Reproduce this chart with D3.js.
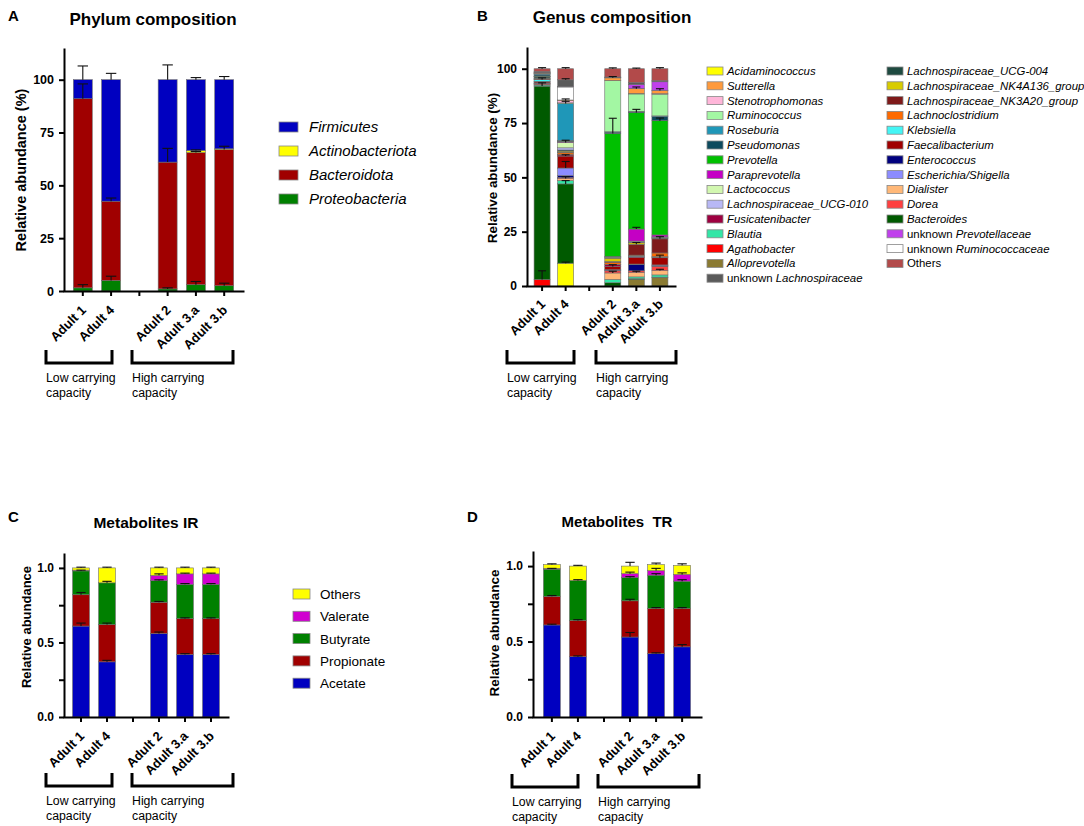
<!DOCTYPE html>
<html lang="en">
<head>
  <meta charset="UTF-8">
  <title>Composition and metabolites</title>
  <script src="https://cdn.jsdelivr.net/npm/d3@7/dist/d3.min.js"></script>
  <style>
    body { margin: 0; background: #fff; }
    svg { display: block; font-family: Arial, 'Liberation Sans', sans-serif; }
    .axis path, .axis line { stroke: #000; stroke-width: 2; }
    .axis text { font-weight: bold; fill: #000; font-family: Arial, 'Liberation Sans', sans-serif; }
    .seg { stroke: #6e6e6e; stroke-width: 0.6; }
    .err { stroke: #111; stroke-width: 1.1; fill: none; }
  </style>
</head>
<body>
<svg width="1084" height="826"></svg>
<script>
// x slots: the empty one is the gap between the two groups
const slots = ['Adult 1', 'Adult 4', '', 'Adult 2', 'Adult 3.a', 'Adult 3.b']
const samples = ['Adult 1', 'Adult 4', 'Adult 2', 'Adult 3.a', 'Adult 3.b']
const groups = ['Low carrying\ncapacity', 'High carrying\ncapacity']

// ---- A: phylum (%), stacked bottom -> top
const phyla = ['Proteobacteria', 'Bacteroidota', 'Actinobacteriota', 'Firmicutes']
const proteobacteria = [1.5, 5, 1, 3, 2.5]
const bacteroidota = [89.5, 37.5, 60, 62.5, 64.5]
const actinobacteriota = [0, 0, 0, 1, 0.3]
const firmicutes = [9, 57.5, 39, 33.5, 32.7]
const proteobacteriaErr = [1.5, 2, 0.5, 1.5, 1.2]
const bacteroidotaErr = [7, 1.5, 6.5, 0.5, 1.5]
const actinobacteriotaErr = [0, 0, 0, 0.3, 0]
const firmicutesErr = [6.5, 3, 7, 1, 1.5]
const phylumTicks = [0, 25, 50, 75, 100]

// ---- B: genus (%), legend order
const genera = ['Acidaminococcus', 'Sutterella', 'Stenotrophomonas', 'Ruminococcus', 'Roseburia',
  'Pseudomonas', 'Prevotella', 'Paraprevotella', 'Lactococcus', 'Lachnospiraceae_UCG-010',
  'Fusicatenibacter', 'Blautia', 'Agathobacter', 'Alloprevotella', 'unknown Lachnospiraceae',
  'Lachnospiraceae_UCG-004', 'Lachnospiraceae_NK4A136_group', 'Lachnospiraceae_NK3A20_group',
  'Lachnoclostridium', 'Klebsiella', 'Faecalibacterium', 'Enterococcus', 'Escherichia/Shigella',
  'Dialister', 'Dorea', 'Bacteroides', 'unknown Prevotellaceae', 'unknown Ruminococcaceae', 'Others']
const genusValues = [
  [0, 10.5, 0, 0, 0],
  [0.2, 0.3, 1.2, 2.2, 1.5],
  [0.1, 1, 0.1, 0.2, 0.2],
  [0.1, 0.3, 23.5, 8, 10],
  [0.4, 17, 0.2, 0.2, 0.3],
  [0.6, 0.3, 0.6, 0.4, 1.9],
  [0.2, 0.3, 56.6, 53.6, 52.6],
  [0.1, 0.3, 0.2, 5.5, 0.9],
  [0.1, 2.5, 0.1, 0.2, 0.1],
  [0.1, 1, 0.2, 0.3, 0.2],
  [0.3, 0.5, 0.8, 0.5, 0.3],
  [0.5, 1.5, 1.5, 0.8, 1],
  [3, 0, 0, 0, 0],
  [0, 0, 0, 3, 3.8],
  [0.5, 3, 0.2, 1, 0.5],
  [0.6, 0.5, 0.3, 0.3, 0.3],
  [0.1, 0.5, 1.5, 0.7, 0.3],
  [0.4, 0.3, 0.5, 5, 6.5],
  [0.1, 0.8, 0.8, 0.4, 1.7],
  [0.8, 0.2, 0.2, 0.2, 0.2],
  [0.5, 5.5, 1.5, 3, 3.3],
  [0.1, 0.8, 0.3, 2.8, 0.4],
  [0.1, 3.5, 0.2, 0.3, 0.2],
  [0.2, 1, 3, 2, 2],
  [0.5, 0.5, 1, 0.8, 2],
  [89, 36.5, 1.5, 0.4, 0.3],
  [0.1, 0.3, 0.1, 1.8, 3.9],
  [0.1, 6, 0.1, 0.1, 0.1],
  [1.2, 5.1, 3.8, 6.3, 5.5]
]
// stacking order, bottom -> top
const genusStack = ['Acidaminococcus', 'Agathobacter', 'Alloprevotella', 'Bacteroides', 'Blautia',
  'Dialister', 'Dorea', 'Enterococcus', 'Escherichia/Shigella', 'Faecalibacterium', 'Fusicatenibacter',
  'Klebsiella', 'Lachnoclostridium', 'Lachnospiraceae_NK3A20_group', 'Lachnospiraceae_NK4A136_group',
  'Lachnospiraceae_UCG-004', 'Lachnospiraceae_UCG-010', 'Lactococcus', 'Paraprevotella', 'Prevotella',
  'Pseudomonas', 'Roseburia', 'Ruminococcus', 'Stenotrophomonas', 'Sutterella',
  'unknown Ruminococcaceae', 'unknown Prevotellaceae', 'unknown Lachnospiraceae', 'Others']
// [genus, sample index, SD]
const genusErr = [
  ['Agathobacter', 0, 4], ['Bacteroides', 0, 1.5], ['Klebsiella', 0, 0.8], ['Others', 0, 0.5],
  ['Acidaminococcus', 1, 0.5], ['Bacteroides', 1, 1.5], ['Escherichia/Shigella', 1, 3], ['Lactococcus', 1, 1],
  ['Roseburia', 1, 1], ['Stenotrophomonas', 1, 0.8], ['unknown Lachnospiraceae', 1, 0.5], ['Others', 1, 0.5],
  ['Dialister', 1, 0.8], ['Faecalibacterium', 1, 0.6],
  ['Prevotella', 2, 7], ['Dialister', 2, 0.8], ['Faecalibacterium', 2, 0.8], ['Sutterella', 2, 0.6], ['Others', 2, 0.4],
  ['Prevotella', 3, 1.5], ['Paraprevotella', 3, 0.8], ['Lachnospiraceae_NK3A20_group', 3, 0.8],
  ['Sutterella', 3, 0.8], ['Dialister', 3, 0.6], ['Others', 3, 0.3],
  ['Prevotella', 4, 1.2], ['Lachnospiraceae_NK3A20_group', 4, 1], ['Faecalibacterium', 4, 1.2],
  ['Sutterella', 4, 0.8], ['Dialister', 4, 0.6], ['Others', 4, 0.5]
]
const genusTicks = [0, 25, 50, 75, 100]

// ---- C / D: short-chain fatty acids, relative abundance, bottom -> top
const metabolites = ['Acetate', 'Propionate', 'Butyrate', 'Valerate', 'Others']
const irAcetate = [0.61, 0.37, 0.56, 0.42, 0.42]
const irPropionate = [0.21, 0.25, 0.21, 0.24, 0.24]
const irButyrate = [0.16, 0.28, 0.145, 0.23, 0.23]
const irValerate = [0.005, 0, 0.035, 0.07, 0.07]
const irOthers = [0.015, 0.1, 0.05, 0.04, 0.04]
const irAcetateErr = [0.02, 0.01, 0.01, 0.005, 0.005]
const irPropionateErr = [0.015, 0.01, 0.005, 0.005, 0.005]
const irButyrateErr = [0.005, 0.01, 0.005, 0.005, 0.005]
const irValerateErr = [0, 0, 0.01, 0.005, 0.005]
const irOthersErr = [0.005, 0.005, 0.005, 0.005, 0.005]

const trAcetate = [0.61, 0.40, 0.53, 0.42, 0.465]
const trPropionate = [0.19, 0.24, 0.24, 0.30, 0.255]
const trButyrate = [0.18, 0.265, 0.155, 0.22, 0.18]
const trValerate = [0.005, 0, 0.025, 0.03, 0.045]
const trOthers = [0.025, 0.095, 0.05, 0.04, 0.06]
const trAcetateErr = [0.005, 0.005, 0.03, 0.005, 0.015]
const trPropionateErr = [0.005, 0.005, 0.01, 0.005, 0.005]
const trButyrateErr = [0.005, 0.005, 0.005, 0.01, 0.01]
const trValerateErr = [0, 0, 0.01, 0.015, 0.01]
const trOthersErr = [0.005, 0.005, 0.025, 0.01, 0.01]
const metaTicks = [0, 0.5, 1]
const metaMinor = [0.25, 0.75]

// ---- colours
const phylumColors = {
  Firmicutes: '#0000c0', Actinobacteriota: '#ffff00', Bacteroidota: '#a00000', Proteobacteria: '#008000'
}
const metaColors = {
  Acetate: '#0000c0', Propionate: '#a00000', Butyrate: '#008000', Valerate: '#d000d0', Others: '#ffff00'
}
const genusColors = {
  'Acidaminococcus': '#ffff00', 'Sutterella': '#ff9a3c', 'Stenotrophomonas': '#ffb6d9',
  'Ruminococcus': '#a3f7a3', 'Roseburia': '#1f97b8', 'Pseudomonas': '#0d4a5e',
  'Prevotella': '#00c000', 'Paraprevotella': '#c400c4', 'Lactococcus': '#d2f7b0',
  'Lachnospiraceae_UCG-010': '#b8b8f5', 'Fusicatenibacter': '#9e0040', 'Blautia': '#33e6a6',
  'Agathobacter': '#ff0000', 'Alloprevotella': '#8a7a32', 'unknown Lachnospiraceae': '#5a5a5a',
  'Lachnospiraceae_UCG-004': '#1e4a40', 'Lachnospiraceae_NK4A136_group': '#d8cc00',
  'Lachnospiraceae_NK3A20_group': '#7e1a1a', 'Lachnoclostridium': '#ff6a00', 'Klebsiella': '#44f5f5',
  'Faecalibacterium': '#a00000', 'Enterococcus': '#00007e', 'Escherichia/Shigella': '#8c8cff',
  'Dialister': '#ffb878', 'Dorea': '#ff4040', 'Bacteroides': '#005a00',
  'unknown Prevotellaceae': '#c040ec', 'unknown Ruminococcaceae': '#ffffff', 'Others': '#b24a4a'
}

const svg = d3.select('svg')
const FONT = "Arial, 'Liberation Sans', sans-serif"

function stackedPanel(o) {
  const g = svg.append('g')
  const x = d3.scaleBand().domain(slots).range([o.left, o.right])
    .paddingInner(o.pi).paddingOuter(o.po)
  const y = d3.scaleLinear().domain([0, o.max]).range([o.zero, o.top])

  const rows = samples.map((s, i) => {
    const r = { sample: s }
    o.keys.forEach(k => { r[k] = o.values[k][i] })
    return r
  })
  const series = d3.stack().keys(o.keys)(rows)

  g.selectAll('.layer')
    .data(series)
    .enter()
    .append('g')
    .attr('fill', s => o.colors[s.key])
    .selectAll('rect')
    .data(s => s)
    .enter()
    .append('rect')
    .attr('class', 'seg')
    .attr('x', d => x(d.data.sample))
    .attr('y', d => y(d[1]))
    .attr('width', x.bandwidth())
    .attr('height', d => Math.max(0, y(d[0]) - y(d[1])))

  // error bars (mean + SD, upward only)
  const cap = x.bandwidth() * o.cap
  const errs = []
  series.forEach(s => {
    s.forEach((d, i) => {
      const e = o.err(s.key, i)
      if (e > 0) errs.push({ sample: d.data.sample, top: d[1], e })
    })
  })
  const eg = g.selectAll('.eb').data(errs).enter().append('g')
  eg.append('line').attr('class', 'err')
    .attr('x1', d => x(d.sample) + x.bandwidth() / 2)
    .attr('x2', d => x(d.sample) + x.bandwidth() / 2)
    .attr('y1', d => y(d.top))
    .attr('y2', d => y(d.top + d.e))
  eg.append('line').attr('class', 'err')
    .attr('x1', d => x(d.sample) + x.bandwidth() / 2 - cap / 2)
    .attr('x2', d => x(d.sample) + x.bandwidth() / 2 + cap / 2)
    .attr('y1', d => y(d.top + d.e))
    .attr('y2', d => y(d.top + d.e))

  // axes
  const ya = g.append('g').attr('class', 'axis')
    .attr('transform', `translate(${o.left},0)`)
    .call(d3.axisLeft(y).tickValues(o.ticks).tickFormat(o.fmt).tickSize(5).tickSizeOuter(0).tickPadding(5))
  ya.selectAll('text').style('font-size', o.yTickSize + 'px')
  if (o.minor) {
    g.append('g').attr('class', 'axis')
      .attr('transform', `translate(${o.left},0)`)
      .call(d3.axisLeft(y).tickValues(o.minor).tickFormat('').tickSize(5).tickSizeOuter(0))
      .select('.domain').remove()
  }
  const xa = g.append('g').attr('class', 'axis')
    .attr('transform', `translate(0,${o.zero})`)
    .call(d3.axisBottom(x).tickSize(5).tickSizeOuter(0))
  xa.selectAll('path.domain').attr('stroke-linecap', 'square')
  xa.selectAll('text')
    .style('font-size', '13px')
    .attr('x', 0).attr('y', 0).attr('dy', 0)
    .attr('text-anchor', 'end')
    .attr('transform', `translate(${o.lx},${o.ly}) rotate(-45)`)

  // y label
  g.append('text')
    .attr('transform', `translate(${o.yl[0]},${o.yl[1]}) rotate(-90)`)
    .attr('text-anchor', 'middle')
    .style('font', `bold ${o.ylSize}px ${FONT}`)
    .text(o.ylabel)

  // title and panel letter
  g.append('text')
    .attr('x', o.title[0]).attr('y', o.title[1])
    .attr('text-anchor', 'middle')
    .style('font', `bold ${o.titleSize}px ${FONT}`)
    .style('white-space', 'pre')
    .text(o.titleText)
  g.append('text')
    .attr('x', o.letter[0]).attr('y', o.letter[1])
    .style('font', `bold 15px ${FONT}`)
    .text(o.letterText)

  // group brackets
  o.brackets.forEach((b, i) => {
    g.append('path')
      .attr('d', `M${b[0]},${o.bTop}V${o.bTop + 13}H${b[1]}V${o.bTop}`)
      .attr('fill', 'none').attr('stroke', '#000').attr('stroke-width', 3)
    groups[i].split('\n').forEach((line, j) => {
      g.append('text')
        .attr('x', b[0]).attr('y', o.bTop + 32 + j * 15)
        .style('font', `12.3px ${FONT}`)
        .text(line)
    })
  })
  return g
}

// ---------- A
const phylumVals = {
  Proteobacteria: proteobacteria, Bacteroidota: bacteroidota,
  Actinobacteriota: actinobacteriota, Firmicutes: firmicutes
}
const phylumErrs = {
  Proteobacteria: proteobacteriaErr, Bacteroidota: bacteroidotaErr,
  Actinobacteriota: actinobacteriotaErr, Firmicutes: firmicutesErr
}
stackedPanel({
  left: 64, right: 243, pi: 0.33, po: 0.33, zero: 291, top: 48, max: 115,
  keys: phyla, values: phylumVals, colors: phylumColors,
  err: (k, i) => phylumErrs[k][i], cap: 0.55,
  ticks: phylumTicks, fmt: d3.format('d'), yTickSize: 12.5,
  lx: 4, ly: 20,
  yl: [26, 170], ylSize: 14.5, ylabel: 'Relative abundance (%)',
  title: [153, 25], titleSize: 17, titleText: 'Phylum composition',
  letter: [8, 21], letterText: 'A',
  bTop: 350, brackets: [[46, 112], [132, 233]]
})
// legend A (top of stack first)
const legA = svg.append('g')
phyla.slice().reverse().forEach((k, i) => {
  const cy = 127 + i * 24
  legA.append('rect').attr('x', 279).attr('y', cy - 5).attr('width', 19).attr('height', 10)
    .attr('fill', phylumColors[k]).attr('stroke', '#888').attr('stroke-width', 0.8)
  legA.append('text').attr('x', 309).attr('y', cy + 5)
    .style('font', `italic 15px ${FONT}`).text(k)
})

// ---------- B
const genusVals = {}
genera.forEach((k, j) => { genusVals[k] = genusValues[j] })
const genusErrMap = {}
genusErr.forEach(([k, i, e]) => { genusErrMap[k + '|' + i] = e })
stackedPanel({
  left: 527, right: 675, pi: 0.32, po: 0.3, zero: 286, top: 47, max: 110,
  keys: genusStack, values: genusVals, colors: genusColors,
  err: (k, i) => genusErrMap[k + '|' + i] || 0, cap: 0.5,
  ticks: genusTicks, fmt: d3.format('d'), yTickSize: 12,
  lx: 4, ly: 19,
  yl: [497, 168], ylSize: 13.4, ylabel: 'Relative abundance (%)',
  title: [612, 23], titleSize: 17, titleText: 'Genus composition',
  letter: [477, 21], letterText: 'B',
  bTop: 350, brackets: [[507, 574], [596, 676]]
})
// legend B, two columns
const legB = svg.append('g')
genera.forEach((k, idx) => {
  const col = idx < 15 ? 0 : 1
  const row = col === 0 ? idx : idx - 15
  const sx = col === 0 ? 707 : 887
  const cy = 71 + row * 14.8
  legB.append('rect').attr('x', sx).attr('y', cy - 4).attr('width', 16).attr('height', 8)
    .attr('fill', genusColors[k]).attr('stroke', '#888').attr('stroke-width', 0.8)
  const t = legB.append('text').attr('x', sx + 20).attr('y', cy + 4)
    .style('font', `11.4px ${FONT}`)
  if (k.startsWith('unknown ')) {
    t.append('tspan').text('unknown ')
    t.append('tspan').style('font-style', 'italic').text(k.slice(8))
  } else if (k === 'Others') {
    t.text(k)
  } else {
    t.style('font-style', 'italic').text(k)
  }
})

// ---------- C
const irVals = { Acetate: irAcetate, Propionate: irPropionate, Butyrate: irButyrate, Valerate: irValerate, Others: irOthers }
const irErrs = { Acetate: irAcetateErr, Propionate: irPropionateErr, Butyrate: irButyrateErr, Valerate: irValerateErr, Others: irOthersErr }
stackedPanel({
  left: 64, right: 228, pi: 0.35, po: 0.33, zero: 717, top: 553, max: 1.1,
  keys: metabolites, values: irVals, colors: metaColors,
  err: (k, i) => irErrs[k][i], cap: 0.55,
  ticks: metaTicks, minor: metaMinor, fmt: d3.format('.1f'), yTickSize: 12,
  lx: 4, ly: 20,
  yl: [31, 627], ylSize: 13, ylabel: 'Relative abundance',
  title: [146, 528], titleSize: 15.5, titleText: 'Metabolites IR',
  letter: [8, 522], letterText: 'C',
  bTop: 773, brackets: [[46, 112], [132, 233]]
})
const legC = svg.append('g')
metabolites.slice().reverse().forEach((k, i) => {
  const cy = 594 + i * 22.3
  legC.append('rect').attr('x', 293).attr('y', cy - 5).attr('width', 17).attr('height', 10)
    .attr('fill', metaColors[k]).attr('stroke', '#888').attr('stroke-width', 0.8)
  legC.append('text').attr('x', 320).attr('y', cy + 5)
    .style('font', `13.5px ${FONT}`).text(k)
})

// ---------- D
const trVals = { Acetate: trAcetate, Propionate: trPropionate, Butyrate: trButyrate, Valerate: trValerate, Others: trOthers }
const trErrs = { Acetate: trAcetateErr, Propionate: trPropionateErr, Butyrate: trButyrateErr, Valerate: trValerateErr, Others: trOthersErr }
stackedPanel({
  left: 533, right: 701, pi: 0.35, po: 0.4, zero: 717, top: 551, max: 1.1,
  keys: metabolites, values: trVals, colors: metaColors,
  err: (k, i) => trErrs[k][i], cap: 0.55,
  ticks: metaTicks, minor: metaMinor, fmt: d3.format('.1f'), yTickSize: 12,
  lx: 4, ly: 20,
  yl: [499, 633], ylSize: 13.5, ylabel: 'Relative abundance',
  title: [617, 527], titleSize: 15, titleText: 'Metabolites  TR',
  letter: [467, 522], letterText: 'D',
  bTop: 774, brackets: [[512, 578], [598, 699]]
})
</script>
</body>
</html>
